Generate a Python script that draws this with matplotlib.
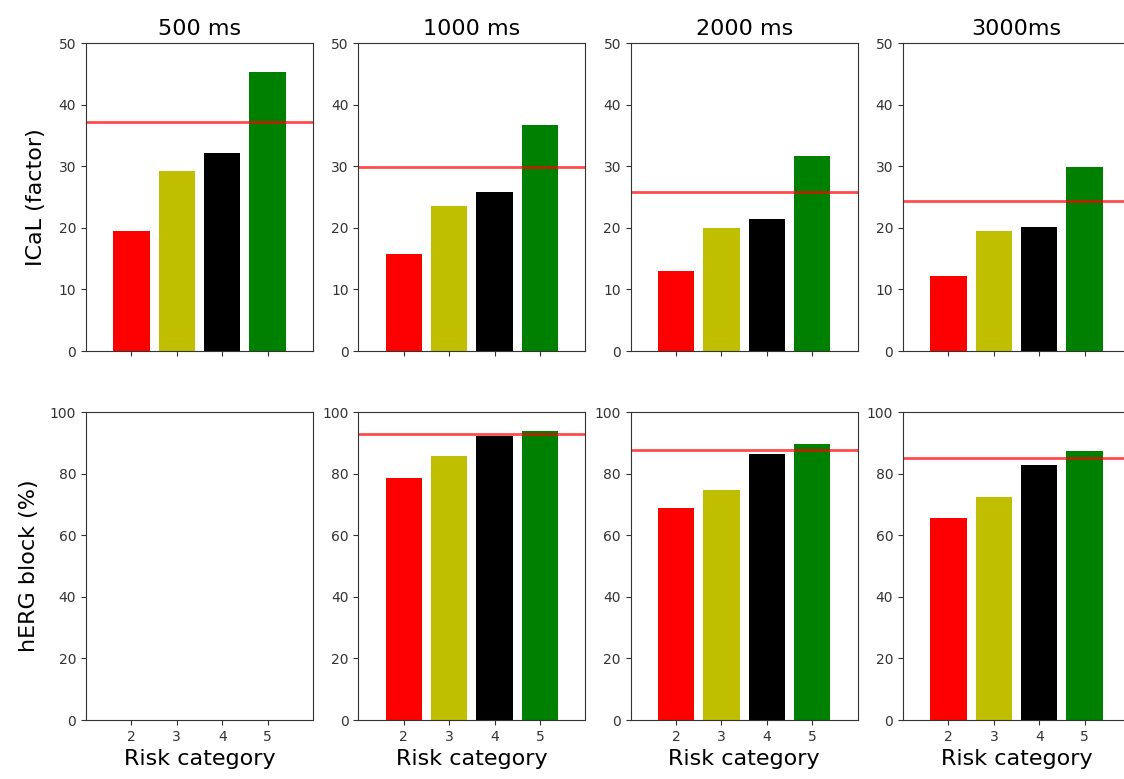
import matplotlib
matplotlib.use("Agg")
import matplotlib.pyplot as plt

# risk categories on the x axis
categories = [2, 3, 4, 5]
bar_colors = ["r", "y", "k", "g"]
durations = ["500 ms", "1000 ms", "2000 ms", "3000ms"]

# ICaL factor per risk category, one list per pacing duration
ical_500 = [19.5, 29.3, 32.1, 45.3]
ical_1000 = [15.8, 23.6, 25.8, 36.7]
ical_2000 = [13.0, 20.0, 21.5, 31.7]
ical_3000 = [12.2, 19.5, 20.2, 29.9]
ical_thresh = [37.2, 29.9, 25.8, 24.3]

# hERG block (%) per risk category (no data for 500 ms)
herg_500 = None
herg_1000 = [78.5, 85.6, 92.3, 93.7]
herg_2000 = [68.9, 74.6, 86.3, 89.7]
herg_3000 = [65.5, 72.4, 82.7, 87.2]
herg_thresh = [None, 92.9, 87.8, 85.2]

ical = [ical_500, ical_1000, ical_2000, ical_3000]
herg = [herg_500, herg_1000, herg_2000, herg_3000]

fig = plt.figure(figsize=(11.24, 7.79), dpi=100)

left0, width, step = 0.0765, 0.202, 0.2423
height = 0.3954
bottoms = [0.5494, 0.0757]

for col in range(4):
    left = left0 + col * step
    ax_top = fig.add_axes([left, bottoms[0], width, height])
    ax_bot = fig.add_axes([left, bottoms[1], width, height])

    # top row: ICaL
    ax_top.bar(categories, ical[col], width=0.8, color=bar_colors)
    ax_top.axhline(ical_thresh[col], color="r", lw=2, alpha=0.7)
    ax_top.set_ylim(0, 50)
    ax_top.set_xlim(1, 6)
    ax_top.set_xticks(categories)
    ax_top.set_xticklabels([])
    ax_top.set_title(durations[col], fontsize=16)

    # bottom row: hERG
    if herg[col] is not None:
        ax_bot.bar(categories, herg[col], width=0.8, color=bar_colors)
        ax_bot.axhline(herg_thresh[col], color="r", lw=2, alpha=0.7)
    ax_bot.set_ylim(0, 100)
    ax_bot.set_xlim(1, 6)
    ax_bot.set_xticks(categories)
    ax_bot.set_xlabel("Risk category", fontsize=16)

    for ax in (ax_top, ax_bot):
        ax.tick_params(labelsize=10, colors="#333333")
        for sp in ax.spines.values():
            sp.set_color("#333333")

    if col == 0:
        ax_top.set_ylabel("ICaL (factor)", fontsize=16, labelpad=9)
        ax_bot.set_ylabel("hERG block (%)", fontsize=16, labelpad=8)

fig.savefig("out.png", dpi=100)
